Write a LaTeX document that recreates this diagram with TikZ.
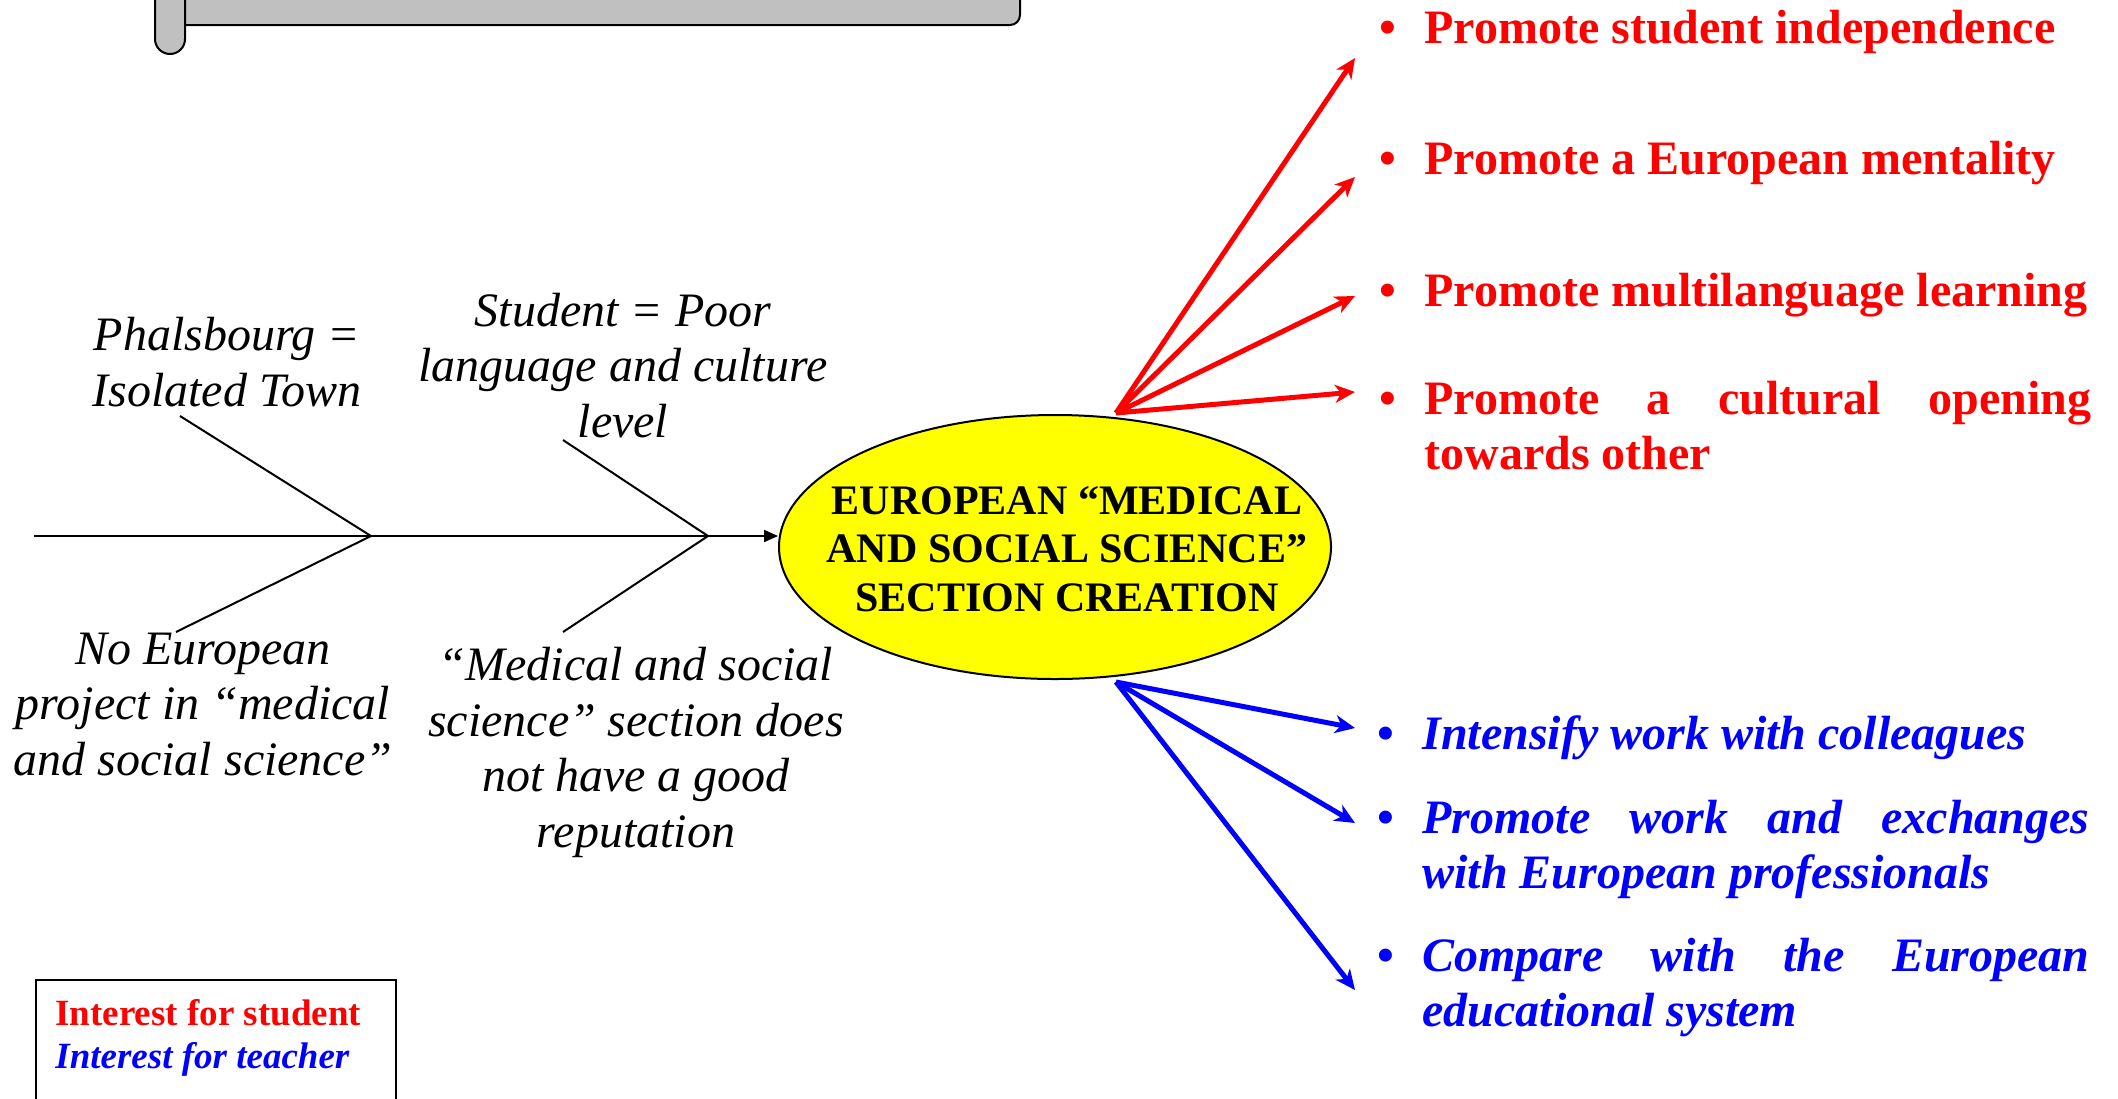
\documentclass[tikz,border=0pt]{standalone}
\usepackage{fontspec}
\setmainfont{Liberation Serif}
\usetikzlibrary{arrows.meta,shapes.geometric}
\definecolor{scrollgray}{RGB}{192,192,192}
\definecolor{myred}{RGB}{255,0,0}
\definecolor{myblue}{RGB}{0,0,255}
\definecolor{myyellow}{RGB}{255,255,0}
\hbadness=10000
\begin{document}
\begin{tikzpicture}[x=0.5pt,y=-0.5pt,
  bone/.style={line width=1pt},
  cause/.style={font=\fontsize{24}{27.7}\selectfont\itshape, align=center, inner sep=0pt, anchor=base},
  item/.style={font=\fontsize{24}{27.7}\selectfont\bfseries, text width=333.5pt, align=justify, inner sep=0pt, anchor=base west},
  redarrow/.style={myred, line width=2.5pt, -{Stealth[length=10pt,width=9pt,inset=3pt]}},
  bluearrow/.style={myblue, line width=2.5pt, -{Stealth[length=10pt,width=9pt,inset=3pt]}},
  legtext/.style={font=\fontsize{18.5}{21.5}\selectfont\bfseries, inner sep=0pt, anchor=base west},
]
\useasboundingbox (0,0) rectangle (2118,1098);
\clip (0,0) rectangle (2118,1098);

% scroll banner
\filldraw[fill=scrollgray, line width=1pt, rounded corners=5pt] (170,-40) -- (1020,-40) -- (1020,25) -- (170,25) -- cycle;
\filldraw[fill=scrollgray, line width=1pt, rounded corners=7.5pt] (155,-40) rectangle (185,54);

% goal ellipse
\node (goal) [ellipse, draw, fill=myyellow, line width=1pt, minimum width=276pt, minimum height=132pt, inner sep=0pt] at (1055,547) {};
\node (goaltext) [font=\fontsize{21}{24.3}\selectfont\bfseries, align=center, inner sep=0pt] at (1067,549)
  {EUROPEAN “MEDICAL\\AND SOCIAL SCIENCE”\\SECTION CREATION};

% fishbone
\coordinate (tail) at (34,536);
\coordinate (j1) at (371,536);
\coordinate (j2) at (708,536);
\coordinate (b1u) at (180,416);
\coordinate (b1l) at (176,632);
\coordinate (b2u) at (563,440);
\coordinate (b2l) at (563,632);
\draw[bone, -{Triangle[length=7pt,width=6pt]}] (tail) -- (tail -| goal.west);
\draw[bone] (b1u) -- (j1) -- (b1l);
\draw[bone] (b2u) -- (j2) -- (b2l);

% causes (anchor = baseline of last line)
\node[cause] (c1) at (227,406) {Phalsbourg =\\Isolated Town};
\node[cause] (c2) at (623,437) {Student = Poor\\language and culture\\level};
\node[cause] (c3) at (203,775) {No European\\project in “medical\\and social science”};
\node[cause] (c4) at (636,847) {“Medical and social\\science” section does\\not have a good\\reputation};

% arrows
\coordinate (rsrc) at (1116,413);
\coordinate (bsrc) at (1116,682);
\coordinate (r1) at (1355,58);
\coordinate (r2) at (1355,177);
\coordinate (r3) at (1355,296);
\coordinate (r4) at (1355,392);
\coordinate (t1) at (1355,728);
\coordinate (t2) at (1355,823);
\coordinate (t3) at (1355,990);
\foreach \p in {r1,r2,r3,r4} \draw[redarrow] (rsrc) -- (\p);
\foreach \p in {t1,t2,t3} \draw[bluearrow] (bsrc) -- (\p);

% student items
\node[item, text=myred] (s1) at (1424,43) {\noindent\llap{\textbullet\hspace{14pt}}Promote student independence};
\node[item, text=myred] (s2) at (1424,174) {\noindent\llap{\textbullet\hspace{14pt}}Promote a European mentality};
\node[item, text=myred] (s3) at (1424,306) {\noindent\llap{\textbullet\hspace{14pt}}Promote multilanguage learning};
\node[item, text=myred] (s4) at (1424,414) {\noindent\llap{\textbullet\hspace{14pt}}Promote a cultural opening\linebreak towards other};

% teacher items
\node[item, text=myblue, font=\fontsize{24}{27.7}\selectfont\bfseries\itshape] (p1) at (1422,749) {\noindent\llap{\upshape\textbullet\hspace{14pt}}Intensify work with colleagues};
\node[item, text=myblue, font=\fontsize{24}{27.7}\selectfont\bfseries\itshape] (p2) at (1422,833) {\noindent\llap{\upshape\textbullet\hspace{14pt}}Promote work and exchanges\linebreak with European professionals};
\node[item, text=myblue, font=\fontsize{24}{27.7}\selectfont\bfseries\itshape] (p3) at (1422,971) {\noindent\llap{\upshape\textbullet\hspace{14pt}}Compare with the European\linebreak educational system};

% legend
\node (legbox) [draw, line width=1pt, minimum width=180pt, minimum height=80pt, inner sep=0pt, anchor=north west] at (35,979) {};
\node[legtext, text=myred] (ls) at (55,1025) {Interest for student};
\node[legtext, text=myblue, font=\fontsize{18.5}{21.5}\selectfont\bfseries\itshape] (lt) at (55,1068) {Interest for teacher};
\end{tikzpicture}
\end{document}
